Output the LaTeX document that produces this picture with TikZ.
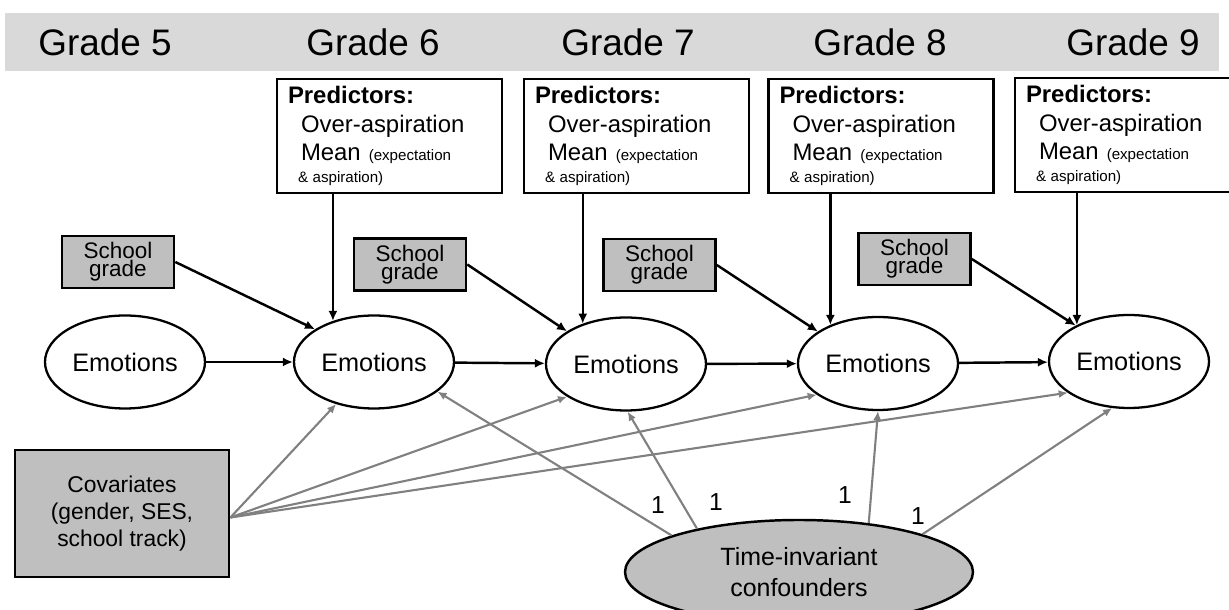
\documentclass[tikz,border=0pt]{standalone}
\usepackage{fontspec}
\setmainfont{Liberation Sans}
\usetikzlibrary{arrows.meta,shapes.geometric}

\definecolor{bandgray}{RGB}{217,217,217}
\definecolor{boxgray}{RGB}{191,191,191}
\definecolor{linegray}{RGB}{128,128,128}

\newcommand{\predtext}{%
    \textbf{Predictors:}\\[0.3pt]
    \hspace*{0.13cm}Over-aspiration\\[0pt]
    \hspace*{0.13cm}Mean {\fontsize{4.3}{5}\selectfont(expectation}\\[-1.7pt]
    \hspace*{0.10cm}{\fontsize{4.3}{5}\selectfont\&\hspace{1.3pt}aspiration)}}

\begin{document}
\begin{tikzpicture}[
        gradelabel/.style={
            font=\fontsize{10.5}{12}\selectfont
        },
        predbox/.style={
            rectangle,
            draw,
            line width=0.8pt,
            align=left,
            text width=2.03cm,
            minimum height=1.14cm,
            inner xsep=0.11cm,
            inner ysep=0pt,
            font=\fontsize{6.8}{8}\selectfont
        },
        gradebox/.style={
            rectangle,
            draw,
            fill=boxgray,
            line width=0.75pt,
            align=center,
            minimum width=1.12cm,
            minimum height=0.52cm,
            inner sep=0pt,
            font=\fontsize{6.4}{5.2}\selectfont
        },
        emonode/.style={
            ellipse,
            draw,
            fill=white,
            line width=0.65pt,
            minimum width=1.6cm,
            minimum height=0.93cm,
            inner sep=0pt,
            font=\fontsize{7.2}{8}\selectfont
        },
        covbox/.style={
            rectangle,
            draw,
            fill=boxgray,
            line width=0.8pt,
            align=center,
            minimum width=2.14cm,
            minimum height=1.27cm,
            font=\fontsize{6.5}{7.7}\selectfont
        },
        confnode/.style={
            ellipse,
            draw,
            fill=boxgray,
            line width=0.7pt,
            align=center,
            minimum width=3.48cm,
            minimum height=1.04cm,
            inner sep=0pt,
            font=\fontsize{7.1}{9}\selectfont
        },
        onelabel/.style={
            font=\fontsize{7}{8}\selectfont
        },
        arrow/.style={
            -{Latex[length=1mm,width=0.9mm]},
            line width=0.7pt
        },
        grayarrow/.style={
            -{Latex[length=0.9mm,width=0.8mm]},
            draw=linegray,
            line width=0.6pt
        }
    ]

        \useasboundingbox (0,0) rectangle (12.29,-6.10);

        % Grade band
        \fill[bandgray] (0.05,-0.13) rectangle (12.19,-0.71);
        \node[gradelabel] (g5) at (1.05,-0.42) {Grade 5};
        \node[gradelabel] (g6) at (3.73,-0.42) {Grade 6};
        \node[gradelabel] (g7) at (6.28,-0.42) {Grade 7};
        \node[gradelabel] (g8) at (8.80,-0.42) {Grade 8};
        \node[gradelabel] (g9) at (11.33,-0.42) {Grade 9};

        % Predictors
        \node[predbox] (p6) at (3.895,-1.36) {\predtext};
        \node[predbox] (p7) at (6.365,-1.36) {\predtext};
        \node[predbox] (p8) at (8.81,-1.36) {\predtext};
        \node[predbox] (p9) at (11.275,-1.35) {\predtext};

        % School grades
        \node[gradebox] (sg5) at (1.18,-2.62) {School\\grade};
        \node[gradebox] (sg6) at (4.10,-2.645) {School\\grade};
        \node[gradebox] (sg7) at (6.595,-2.65) {School\\grade};
        \node[gradebox] (sg8) at (9.145,-2.59) {School\\grade};

        % Emotions
        \node[emonode] (em5) at (1.25,-3.62) {Emotions};
        \node[emonode] (em6) at (3.74,-3.62) {Emotions};
        \node[emonode] (em7) at (6.26,-3.64) {Emotions};
        \node[emonode] (em8) at (8.78,-3.635) {Emotions};
        \node[emonode] (em9) at (11.29,-3.615) {Emotions};

        % Covariates and confounders
        \node[covbox] (cov) at (1.22,-5.135)
            {Covariates\\(gender, SES,\\school track)};
        \node[confnode] (conf) at (7.99,-5.72)
            {Time-invariant\\confounders};

        % Autoregressive paths
        \draw[arrow] (em5) -- (em6);
        \draw[arrow] (em6) -- (em7);
        \draw[arrow] (em7) -- (em8);
        \draw[arrow] (em8) -- (em9);

        % Predictor paths
        \draw[arrow] (p6.south -| em6.135) -- (em6.135);
        \draw[arrow] (p7.south -| em7.137) -- (em7.137);
        \draw[arrow] (p8.south -| em8.141) -- (em8.141);
        \draw[arrow] (p9.south -| em9.145) -- (em9.145);

        % School grade paths
        \draw[arrow] (sg5.east) -- (em6.151);
        \draw[arrow] (sg6.east) -- (em7.151);
        \draw[arrow] (sg7.east) -- (em8.152);
        \draw[arrow] (sg8.east) -- (em9.146);

        % Covariate paths
        \draw[grayarrow] ([yshift=-0.04cm]cov.east) -- (em6.228);
        \draw[grayarrow] ([yshift=-0.04cm]cov.east) -- (em7.209);
        \draw[grayarrow] ([yshift=-0.04cm]cov.east) -- (em8.207);
        \draw[grayarrow] ([yshift=-0.04cm]cov.east) -- (em9.207);

        % Confounder paths
        \draw[grayarrow] (conf.164) -- (em6.335);
        \draw[grayarrow] (conf.157) -- (em7.272);
        \draw[grayarrow] (conf.35) -- (em8.270);
        \draw[grayarrow] (conf.17) -- (em9.250);

        \node[onelabel] (one6) at (6.58,-5.05) {1};
        \node[onelabel] (one7) at (7.16,-5.02) {1};
        \node[onelabel] (one8) at (8.45,-4.95) {1};
        \node[onelabel] (one9) at (9.18,-5.16) {1};

    \end{tikzpicture}
\end{document}
